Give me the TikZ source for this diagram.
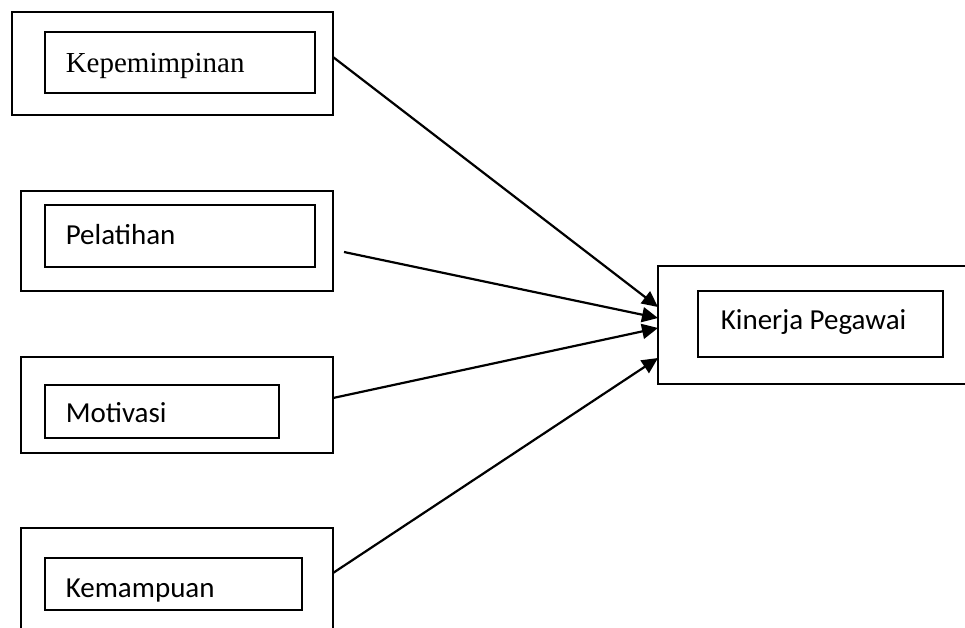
\documentclass[tikz,border=0pt]{standalone}
\usepackage{fontspec}
\setmainfont{Carlito}
\newfontfamily\timesfont{Liberation Serif}
\usepackage{tikz}
\usetikzlibrary{arrows.meta}
\definecolor{box_black}{RGB}{0,0,0}

\begin{document}
\begin{tikzpicture}[x=1pt,y=-1pt,line width=1.6pt]
    \tikzstyle{outer}=[draw=box_black, rectangle, inner sep=0pt, outer sep=0pt, fill=none]
    \tikzstyle{inner}=[style=outer, line width=1.3pt]
    \tikzstyle{lbl}=[anchor=base west, inner sep=0pt, font=\fontsize{29}{35}\selectfont, text=black]
    \tikzstyle{link}=[-{Triangle[length=16pt,width=15pt]}, line width=2.2pt]

    \useasboundingbox (0,0) rectangle (965,627);
    \clip (0,0) rectangle (965,627);

    % independent variables
    \node[outer, minimum width=321pt, minimum height=103pt] (kep) at (172.5,63.5) {};
    \node[inner, minimum width=270pt, minimum height=61pt]  (kepIn) at (180,62.5) {};
    \node[lbl, font=\timesfont\fontsize{29}{35}\selectfont] (kepTxt) at (65,72) {Kepemimpinan};

    \node[outer, minimum width=312pt, minimum height=100pt] (pel) at (177,241) {};
    \node[inner, minimum width=270pt, minimum height=62pt]  (pelIn) at (180,236) {};
    \node[lbl] (pelTxt) at (65,244) {Pelatihan};

    \node[outer, minimum width=312pt, minimum height=96pt]  (mot) at (177,405) {};
    \node[inner, minimum width=234pt, minimum height=53pt]  (motIn) at (162,411.5) {};
    \node[lbl] (motTxt) at (65,422) {Motivasi};

    \node[outer, minimum width=312pt, minimum height=112pt] (kem) at (177,584) {};
    \node[inner, minimum width=257pt, minimum height=52pt]  (kemIn) at (173.5,584) {};
    \node[lbl] (kemTxt) at (65,597) {Kemampuan};

    % dependent variable
    \node[outer, minimum width=317pt, minimum height=118pt] (kin) at (816.5,325) {};
    \node[inner, minimum width=245pt, minimum height=66pt]  (kinIn) at (820.5,324) {};
    \node[lbl] (kinTxt) at (720,329) {Kinerja Pegawai};

    \path
     ([yshift=6.5pt]kep.east) edge[link] ([yshift=18pt]kin.west)
     ([xshift=11pt,yshift=-11pt]pel.east) edge[link] ([yshift=7pt]kin.west)
     ([yshift=7pt]mot.east) edge[link] ([yshift=-3pt]kin.west)
     ([yshift=11pt]kem.east) edge[link] ([yshift=-33pt]kin.west)
     ;
\end{tikzpicture}
\end{document}
